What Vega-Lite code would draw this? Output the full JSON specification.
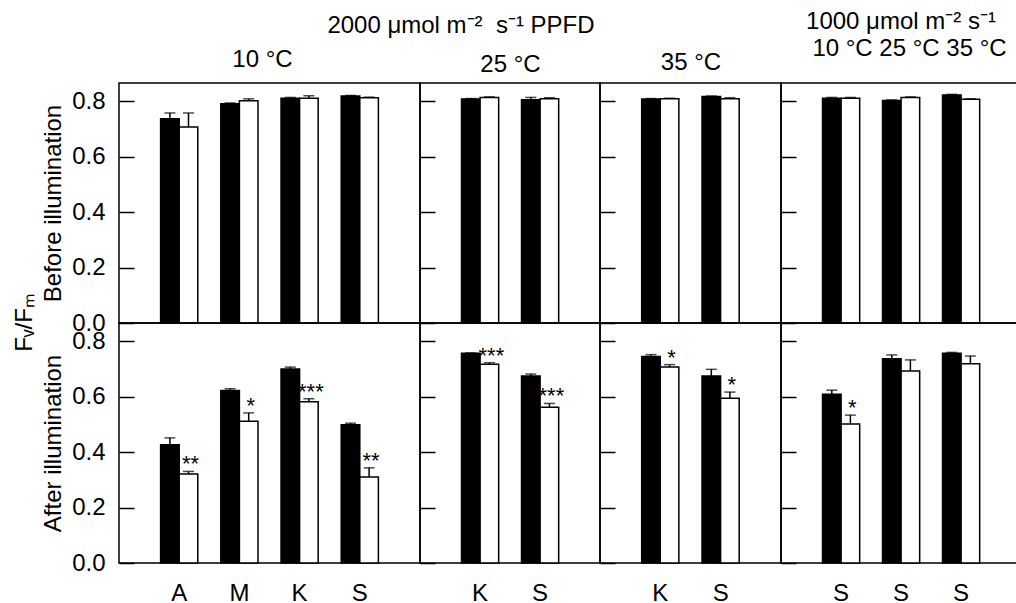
{
 "$schema": "https://vega.github.io/schema/vega-lite/v6.json",
 "autosize": {"type": "pad"},
 "padding": {"left": 12, "top": 9, "right": 0, "bottom": 0},
 "background": "white",
 "config": {
  "font": "Liberation Sans",
  "view": {"stroke": "black", "strokeWidth": 1.5},
  "axis": {"grid": false, "domain": false, "labelFontSize": 24, "labelColor": "black", "titleFontSize": 24, "titleFontWeight": "normal", "titleColor": "black", "tickColor": "black", "tickWidth": 1.5},
  "title": {"fontSize": 24, "fontWeight": "normal", "color": "black"}
 },
 "data": {"values": [
  {"r": "B", "p": 1, "g": "A", "s": "c", "v": 0.736, "e": 0.757, "sig": ""},
  {"r": "B", "p": 1, "g": "A", "s": "t", "v": 0.706, "e": 0.757, "sig": ""},
  {"r": "B", "p": 1, "g": "M", "s": "c", "v": 0.790, "e": 0.793, "sig": ""},
  {"r": "B", "p": 1, "g": "M", "s": "t", "v": 0.801, "e": 0.808, "sig": ""},
  {"r": "B", "p": 1, "g": "K", "s": "c", "v": 0.810, "e": 0.813, "sig": ""},
  {"r": "B", "p": 1, "g": "K", "s": "t", "v": 0.810, "e": 0.819, "sig": ""},
  {"r": "B", "p": 1, "g": "S", "s": "c", "v": 0.818, "e": 0.820, "sig": ""},
  {"r": "B", "p": 1, "g": "S", "s": "t", "v": 0.812, "e": 0.814, "sig": ""},
  {"r": "B", "p": 2, "g": "K", "s": "c", "v": 0.807, "e": 0.809, "sig": ""},
  {"r": "B", "p": 2, "g": "K", "s": "t", "v": 0.813, "e": 0.815, "sig": ""},
  {"r": "B", "p": 2, "g": "S", "s": "c", "v": 0.805, "e": 0.813, "sig": ""},
  {"r": "B", "p": 2, "g": "S", "s": "t", "v": 0.808, "e": 0.812, "sig": ""},
  {"r": "B", "p": 3, "g": "K", "s": "c", "v": 0.807, "e": 0.809, "sig": ""},
  {"r": "B", "p": 3, "g": "K", "s": "t", "v": 0.808, "e": 0.810, "sig": ""},
  {"r": "B", "p": 3, "g": "S", "s": "c", "v": 0.816, "e": 0.818, "sig": ""},
  {"r": "B", "p": 3, "g": "S", "s": "t", "v": 0.808, "e": 0.812, "sig": ""},
  {"r": "B", "p": 4, "g": "S1", "s": "c", "v": 0.810, "e": 0.813, "sig": ""},
  {"r": "B", "p": 4, "g": "S1", "s": "t", "v": 0.810, "e": 0.813, "sig": ""},
  {"r": "B", "p": 4, "g": "S2", "s": "c", "v": 0.802, "e": 0.804, "sig": ""},
  {"r": "B", "p": 4, "g": "S2", "s": "t", "v": 0.813, "e": 0.815, "sig": ""},
  {"r": "B", "p": 4, "g": "S3", "s": "c", "v": 0.822, "e": 0.824, "sig": ""},
  {"r": "B", "p": 4, "g": "S3", "s": "t", "v": 0.806, "e": 0.808, "sig": ""},
  {"r": "A", "p": 1, "g": "A", "s": "c", "v": 0.426, "e": 0.451, "sig": ""},
  {"r": "A", "p": 1, "g": "A", "s": "t", "v": 0.321, "e": 0.330, "sig": "**"},
  {"r": "A", "p": 1, "g": "M", "s": "c", "v": 0.622, "e": 0.628, "sig": ""},
  {"r": "A", "p": 1, "g": "M", "s": "t", "v": 0.511, "e": 0.541, "sig": "*"},
  {"r": "A", "p": 1, "g": "K", "s": "c", "v": 0.699, "e": 0.706, "sig": ""},
  {"r": "A", "p": 1, "g": "K", "s": "t", "v": 0.581, "e": 0.592, "sig": "***"},
  {"r": "A", "p": 1, "g": "S", "s": "c", "v": 0.498, "e": 0.504, "sig": ""},
  {"r": "A", "p": 1, "g": "S", "s": "t", "v": 0.310, "e": 0.343, "sig": "**"},
  {"r": "A", "p": 2, "g": "K", "s": "c", "v": 0.756, "e": 0.757, "sig": ""},
  {"r": "A", "p": 2, "g": "K", "s": "t", "v": 0.716, "e": 0.722, "sig": "***"},
  {"r": "A", "p": 2, "g": "S", "s": "c", "v": 0.674, "e": 0.681, "sig": ""},
  {"r": "A", "p": 2, "g": "S", "s": "t", "v": 0.561, "e": 0.575, "sig": "***"},
  {"r": "A", "p": 3, "g": "K", "s": "c", "v": 0.744, "e": 0.751, "sig": ""},
  {"r": "A", "p": 3, "g": "K", "s": "t", "v": 0.706, "e": 0.715, "sig": "*"},
  {"r": "A", "p": 3, "g": "S", "s": "c", "v": 0.674, "e": 0.698, "sig": ""},
  {"r": "A", "p": 3, "g": "S", "s": "t", "v": 0.594, "e": 0.616, "sig": "*"},
  {"r": "A", "p": 4, "g": "S1", "s": "c", "v": 0.608, "e": 0.623, "sig": ""},
  {"r": "A", "p": 4, "g": "S1", "s": "t", "v": 0.501, "e": 0.533, "sig": "*"},
  {"r": "A", "p": 4, "g": "S2", "s": "c", "v": 0.736, "e": 0.750, "sig": ""},
  {"r": "A", "p": 4, "g": "S2", "s": "t", "v": 0.692, "e": 0.732, "sig": ""},
  {"r": "A", "p": 4, "g": "S3", "s": "c", "v": 0.756, "e": 0.759, "sig": ""},
  {"r": "A", "p": 4, "g": "S3", "s": "t", "v": 0.718, "e": 0.746, "sig": ""}
 ]},
 "title": {"text": "Fᵥ/Fₘ", "orient": "left", "anchor": "middle", "frame": "bounds", "offset": 4, "dx": -15},
 "columns": 4,
 "spacing": 0,
 "bounds": "flush",
 "align": "each",
 "concat": [
    {
     "width": 301, "height": 240,
     "transform": [{"filter": "datum.r == 'B' && datum.p == 1"}],
     "encoding": {
      "x": {"field": "g", "type": "nominal", "sort": null, "scale": {"paddingInner": 0, "paddingOuter": 0.5}, "axis": {"orient": "top", "labels": false, "ticks": false, "title": "10 °C", "titlePadding": 12, "titleX": 143}},
      "xOffset": {"field": "s", "type": "nominal", "sort": ["c", "t"], "scale": {"paddingInner": 0, "paddingOuter": 0.62}},
      "y": {"field": "v", "type": "quantitative", "title": "Before illumination", "scale": {"domain": [0, 0.865], "nice": false}, "axis": {"values": [0, 0.2, 0.4, 0.6, 0.8], "format": ".1f", "tickSize": -15, "labelPadding": 29, "titlePadding": 6}}
     },
     "layer": [
      {"mark": {"type": "bar", "stroke": "black", "strokeWidth": 1.5}, "encoding": {"fill": {"field": "s", "type": "nominal", "scale": {"domain": ["c", "t"], "range": ["black", "white"]}, "legend": null}}},
      {"mark": {"type": "rule", "color": "black", "strokeWidth": 1.5}, "encoding": {"y2": {"field": "e"}}},
      {"mark": {"type": "tick", "color": "black", "size": 11, "thickness": 1.5}, "encoding": {"y": {"field": "e", "type": "quantitative", "title": "Before illumination"}}}
     ]
    },
    {
     "width": 180, "height": 240,
     "title": {"text": "2000 μmol m⁻²\u00a0 s⁻¹ PPFD", "dx": -49, "offset": 14, "limit": 0},
     "transform": [{"filter": "datum.r == 'B' && datum.p == 2"}],
     "encoding": {
      "x": {"field": "g", "type": "nominal", "sort": null, "scale": {"paddingInner": 0, "paddingOuter": 0.5}, "axis": {"orient": "top", "labels": false, "ticks": false, "title": "25 °C", "titlePadding": 7}},
      "xOffset": {"field": "s", "type": "nominal", "sort": ["c", "t"], "scale": {"paddingInner": 0, "paddingOuter": 0.62}},
      "y": {"field": "v", "type": "quantitative", "title": null, "scale": {"domain": [0, 0.865], "nice": false}, "axis": {"values": [0, 0.2, 0.4, 0.6, 0.8], "labels": false, "tickSize": -15}}
     },
     "layer": [
      {"mark": {"type": "bar", "stroke": "black", "strokeWidth": 1.5}, "encoding": {"fill": {"field": "s", "type": "nominal", "scale": {"domain": ["c", "t"], "range": ["black", "white"]}, "legend": null}}},
      {"mark": {"type": "rule", "color": "black", "strokeWidth": 1.5}, "encoding": {"y2": {"field": "e"}}},
      {"mark": {"type": "tick", "color": "black", "size": 11, "thickness": 1.5}, "encoding": {"y": {"field": "e", "type": "quantitative", "title": null}}}
     ]
    },
    {
     "width": 181, "height": 240,
     "transform": [{"filter": "datum.r == 'B' && datum.p == 3"}],
     "encoding": {
      "x": {"field": "g", "type": "nominal", "sort": null, "scale": {"paddingInner": 0, "paddingOuter": 0.5}, "axis": {"orient": "top", "labels": false, "ticks": false, "title": "35 °C", "titlePadding": 9}},
      "xOffset": {"field": "s", "type": "nominal", "sort": ["c", "t"], "scale": {"paddingInner": 0, "paddingOuter": 0.62}},
      "y": {"field": "v", "type": "quantitative", "title": null, "scale": {"domain": [0, 0.865], "nice": false}, "axis": {"values": [0, 0.2, 0.4, 0.6, 0.8], "labels": false, "tickSize": -15}}
     },
     "layer": [
      {"mark": {"type": "bar", "stroke": "black", "strokeWidth": 1.5}, "encoding": {"fill": {"field": "s", "type": "nominal", "scale": {"domain": ["c", "t"], "range": ["black", "white"]}, "legend": null}}},
      {"mark": {"type": "rule", "color": "black", "strokeWidth": 1.5}, "encoding": {"y2": {"field": "e"}}},
      {"mark": {"type": "tick", "color": "black", "size": 11, "thickness": 1.5}, "encoding": {"y": {"field": "e", "type": "quantitative", "title": null}}}
     ]
    },
    {
     "width": 240, "height": 240,
     "title": {"text": "1000 μmol m⁻² s⁻¹", "offset": 2, "limit": 0},
     "transform": [{"filter": "datum.r == 'B' && datum.p == 4"}],
     "encoding": {
      "x": {"field": "g", "type": "nominal", "sort": null, "scale": {"paddingInner": 0, "paddingOuter": 0.5}, "axis": {"orient": "top", "labels": false, "ticks": false, "title": "10 °C 25 °C 35 °C", "titlePadding": 23, "titleX": 128}},
      "xOffset": {"field": "s", "type": "nominal", "sort": ["c", "t"], "scale": {"paddingInner": 0, "paddingOuter": 0.62}},
      "y": {"field": "v", "type": "quantitative", "title": null, "scale": {"domain": [0, 0.865], "nice": false}, "axis": {"values": [0, 0.2, 0.4, 0.6, 0.8], "labels": false, "tickSize": -15}}
     },
     "layer": [
      {"mark": {"type": "bar", "stroke": "black", "strokeWidth": 1.5}, "encoding": {"fill": {"field": "s", "type": "nominal", "scale": {"domain": ["c", "t"], "range": ["black", "white"]}, "legend": null}}},
      {"mark": {"type": "rule", "color": "black", "strokeWidth": 1.5}, "encoding": {"y2": {"field": "e"}}},
      {"mark": {"type": "tick", "color": "black", "size": 11, "thickness": 1.5}, "encoding": {"y": {"field": "e", "type": "quantitative", "title": null}}}
     ]
    },
    {
     "width": 301, "height": 240,
     "transform": [{"filter": "datum.r == 'A' && datum.p == 1"}],
     "encoding": {
      "x": {"field": "g", "type": "nominal", "sort": null, "scale": {"paddingInner": 0, "paddingOuter": 0.5}, "axis": {"ticks": false, "labelAngle": 0, "labelPadding": 18, "title": null, "labelExpr": "slice(datum.label, 0, 1)"}},
      "xOffset": {"field": "s", "type": "nominal", "sort": ["c", "t"], "scale": {"paddingInner": 0, "paddingOuter": 0.62}},
      "y": {"field": "v", "type": "quantitative", "title": "After illumination", "scale": {"domain": [0, 0.865], "nice": false}, "axis": {"values": [0, 0.2, 0.4, 0.6, 0.8], "format": ".1f", "tickSize": -15, "labelPadding": 29, "titlePadding": 6}}
     },
     "layer": [
      {"mark": {"type": "bar", "stroke": "black", "strokeWidth": 1.5}, "encoding": {"fill": {"field": "s", "type": "nominal", "scale": {"domain": ["c", "t"], "range": ["black", "white"]}, "legend": null}}},
      {"mark": {"type": "rule", "color": "black", "strokeWidth": 1.5}, "encoding": {"y2": {"field": "e"}}},
      {"mark": {"type": "tick", "color": "black", "size": 11, "thickness": 1.5}, "encoding": {"y": {"field": "e", "type": "quantitative", "title": "After illumination"}}},
      {"mark": {"type": "text", "fontSize": 22, "dx": 2, "baseline": "alphabetic", "color": "black"}, "encoding": {"y": {"field": "e", "type": "quantitative", "title": "After illumination"}, "text": {"field": "sig"}}}
     ]
    },
    {
     "width": 180, "height": 240,
     "transform": [{"filter": "datum.r == 'A' && datum.p == 2"}],
     "encoding": {
      "x": {"field": "g", "type": "nominal", "sort": null, "scale": {"paddingInner": 0, "paddingOuter": 0.5}, "axis": {"ticks": false, "labelAngle": 0, "labelPadding": 18, "title": null, "labelExpr": "slice(datum.label, 0, 1)"}},
      "xOffset": {"field": "s", "type": "nominal", "sort": ["c", "t"], "scale": {"paddingInner": 0, "paddingOuter": 0.62}},
      "y": {"field": "v", "type": "quantitative", "title": null, "scale": {"domain": [0, 0.865], "nice": false}, "axis": {"values": [0, 0.2, 0.4, 0.6, 0.8], "labels": false, "tickSize": -15}}
     },
     "layer": [
      {"mark": {"type": "bar", "stroke": "black", "strokeWidth": 1.5}, "encoding": {"fill": {"field": "s", "type": "nominal", "scale": {"domain": ["c", "t"], "range": ["black", "white"]}, "legend": null}}},
      {"mark": {"type": "rule", "color": "black", "strokeWidth": 1.5}, "encoding": {"y2": {"field": "e"}}},
      {"mark": {"type": "tick", "color": "black", "size": 11, "thickness": 1.5}, "encoding": {"y": {"field": "e", "type": "quantitative", "title": null}}},
      {"mark": {"type": "text", "fontSize": 22, "dx": 2, "baseline": "alphabetic", "color": "black"}, "encoding": {"y": {"field": "e", "type": "quantitative", "title": null}, "text": {"field": "sig"}}}
     ]
    },
    {
     "width": 181, "height": 240,
     "transform": [{"filter": "datum.r == 'A' && datum.p == 3"}],
     "encoding": {
      "x": {"field": "g", "type": "nominal", "sort": null, "scale": {"paddingInner": 0, "paddingOuter": 0.5}, "axis": {"ticks": false, "labelAngle": 0, "labelPadding": 18, "title": null, "labelExpr": "slice(datum.label, 0, 1)"}},
      "xOffset": {"field": "s", "type": "nominal", "sort": ["c", "t"], "scale": {"paddingInner": 0, "paddingOuter": 0.62}},
      "y": {"field": "v", "type": "quantitative", "title": null, "scale": {"domain": [0, 0.865], "nice": false}, "axis": {"values": [0, 0.2, 0.4, 0.6, 0.8], "labels": false, "tickSize": -15}}
     },
     "layer": [
      {"mark": {"type": "bar", "stroke": "black", "strokeWidth": 1.5}, "encoding": {"fill": {"field": "s", "type": "nominal", "scale": {"domain": ["c", "t"], "range": ["black", "white"]}, "legend": null}}},
      {"mark": {"type": "rule", "color": "black", "strokeWidth": 1.5}, "encoding": {"y2": {"field": "e"}}},
      {"mark": {"type": "tick", "color": "black", "size": 11, "thickness": 1.5}, "encoding": {"y": {"field": "e", "type": "quantitative", "title": null}}},
      {"mark": {"type": "text", "fontSize": 22, "dx": 2, "baseline": "alphabetic", "color": "black"}, "encoding": {"y": {"field": "e", "type": "quantitative", "title": null}, "text": {"field": "sig"}}}
     ]
    },
    {
     "width": 240, "height": 240,
     "transform": [{"filter": "datum.r == 'A' && datum.p == 4"}],
     "encoding": {
      "x": {"field": "g", "type": "nominal", "sort": null, "scale": {"paddingInner": 0, "paddingOuter": 0.5}, "axis": {"ticks": false, "labelAngle": 0, "labelPadding": 18, "title": null, "labelExpr": "slice(datum.label, 0, 1)"}},
      "xOffset": {"field": "s", "type": "nominal", "sort": ["c", "t"], "scale": {"paddingInner": 0, "paddingOuter": 0.62}},
      "y": {"field": "v", "type": "quantitative", "title": null, "scale": {"domain": [0, 0.865], "nice": false}, "axis": {"values": [0, 0.2, 0.4, 0.6, 0.8], "labels": false, "tickSize": -15}}
     },
     "layer": [
      {"mark": {"type": "bar", "stroke": "black", "strokeWidth": 1.5}, "encoding": {"fill": {"field": "s", "type": "nominal", "scale": {"domain": ["c", "t"], "range": ["black", "white"]}, "legend": null}}},
      {"mark": {"type": "rule", "color": "black", "strokeWidth": 1.5}, "encoding": {"y2": {"field": "e"}}},
      {"mark": {"type": "tick", "color": "black", "size": 11, "thickness": 1.5}, "encoding": {"y": {"field": "e", "type": "quantitative", "title": null}}},
      {"mark": {"type": "text", "fontSize": 22, "dx": 2, "baseline": "alphabetic", "color": "black"}, "encoding": {"y": {"field": "e", "type": "quantitative", "title": null}, "text": {"field": "sig"}}}
     ]
    }
 ]
}
